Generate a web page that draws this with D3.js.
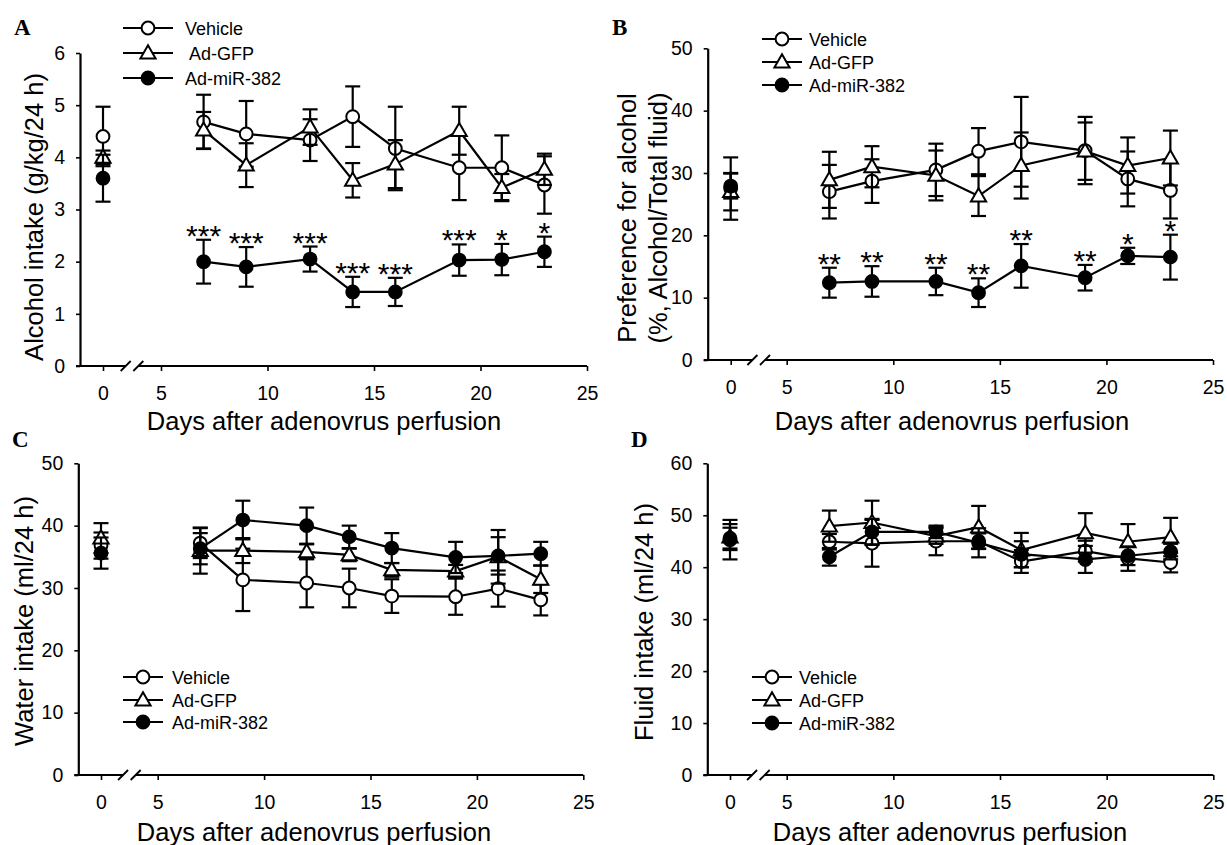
<!DOCTYPE html>
<html><head><meta charset="utf-8">
<script src="https://cdn.jsdelivr.net/npm/d3@7"></script>
<style>
body{margin:0;background:#fff}
svg{display:block;background:#fff}
text{font-family:"Liberation Sans",Arial,sans-serif;fill:#000}
</style>
</head><body>
<svg id="c" width="1227" height="845"></svg>
<script>
// ---------------- data ----------------
const days = [0, 7, 9, 12, 14, 16, 19, 21, 23];
const seriesNames = ["Vehicle", "Ad-GFP", "Ad-miR-382"];
const xTickValues = [0, 5, 10, 15, 20, 25];

// Panel A: Alcohol intake (g/kg/24 h)
const vehA    = [4.40, 4.68, 4.45, 4.33, 4.78, 4.17, 3.80, 3.80, 3.47];
const vehAerr = [0.57, 0.52, 0.63, 0.40, 0.58, 0.80, 0.62, 0.62, 0.55];
const gfpA    = [4.00, 4.52, 3.85, 4.58, 3.56, 3.87, 4.51, 3.42, 3.77];
const gfpAerr = [0.13, 0.35, 0.42, 0.34, 0.33, 0.46, 0.46, 0.26, 0.30];
const mirA    = [3.60, 2.00, 1.90, 2.05, 1.42, 1.42, 2.03, 2.04, 2.19];
const mirAerr = [0.45, 0.42, 0.38, 0.24, 0.29, 0.27, 0.30, 0.30, 0.29];
const starsA  = ["", "***", "***", "***", "***", "***", "***", "*", "*"];
const yTicksA = [0, 1, 2, 3, 4, 5, 6];

// Panel B: Preference for alcohol (%)
const vehB    = [27.5, 27.0, 28.7, 30.5, 33.5, 35.0, 33.6, 29.05, 27.2];
const vehBerr = [5.0, 4.3, 3.5, 4.2, 3.7, 7.2, 5.4, 4.4, 4.5];
const gfpB    = [27.0, 28.9, 31.0, 29.6, 26.3, 31.2, 33.5, 31.2, 32.4];
const gfpBerr = [3.0, 4.5, 3.3, 4.0, 3.2, 5.3, 4.6, 4.5, 4.4];
const mirB    = [27.9, 12.4, 12.6, 12.6, 10.8, 15.1, 13.2, 16.7, 16.5];
const mirBerr = [2.0, 2.4, 2.45, 2.2, 2.3, 3.5, 2.05, 1.3, 3.6];
const starsB  = ["", "**", "**", "**", "**", "**", "**", "*", "*"];
const yTicksB = [0, 10, 20, 30, 40, 50];

// Panel C: Water intake (ml/24 h)
const vehC    = [36.8, 37.2, 31.3, 30.8, 30.0, 28.7, 28.6, 29.9, 28.1];
const vehCerr = [2.1, 2.4, 5.0, 3.9, 3.1, 2.7, 2.9, 2.9, 2.5];
const gfpC    = [38.0, 36.0, 36.0, 35.8, 35.3, 32.9, 32.7, 35.0, 31.4];
const gfpCerr = [2.4, 3.7, 2.0, 1.2, 1.0, 1.1, 1.0, 4.3, 2.2];
const mirC    = [35.6, 36.3, 40.9, 40.0, 38.2, 36.4, 34.9, 35.15, 35.5];
const mirCerr = [2.5, 2.5, 3.1, 2.9, 1.8, 2.4, 2.5, 3.0, 1.9];
const yTicksC = [0, 10, 20, 30, 40, 50];

// Panel D: Fluid intake (ml/24 h)
const vehD    = [45.3, 44.9, 44.6, 45.0, 45.0, 41.1, 43.1, 41.7, 40.9];
const vehDerr = [3.8, 1.5, 4.5, 2.7, 1.5, 2.2, 2.0, 2.4, 1.9];
const gfpD    = [45.8, 47.9, 48.6, 46.0, 47.7, 43.3, 46.6, 44.9, 45.8];
const gfpDerr = [2.5, 3.0, 4.2, 1.5, 4.1, 3.3, 3.8, 3.4, 3.7];
const mirD    = [45.6, 42.0, 46.8, 46.8, 44.7, 42.5, 41.5, 42.2, 43.0];
const mirDerr = [2.0, 1.7, 2.5, 1.2, 2.8, 2.5, 2.6, 1.8, 1.5];
const yTicksD = [0, 10, 20, 30, 40, 50, 60];

// ---------------- layout ----------------
const panels = [
  { label: "A", lx: 14, ly: 35, ax: 80, x0: 103, x5: 161, x25: 587, yTop: 53, yBot: 366,
    yTicks: yTicksA, vals: [vehA, gfpA, mirA], errs: [vehAerr, gfpAerr, mirAerr], stars: starsA,
    leg: { x1: 123, x2: 173, tx: 185, ys: [28, 53, 78], labels: ["Vehicle", " Ad-GFP", "Ad-miR-382"] },
    ytitle: ["Alcohol intake (g/kg/24 h)"], ytx: [43], yty: 217, xtx: 324, xty: 430 },
  { label: "B", lx: 612, ly: 35, ax: 707.7, x0: 730.7, x5: 786.7, x25: 1213, yTop: 48.3, yBot: 360,
    yTicks: yTicksB, vals: [vehB, gfpB, mirB], errs: [vehBerr, gfpBerr, mirBerr], stars: starsB,
    leg: { x1: 762, x2: 802, tx: 809, ys: [39, 62, 85], labels: ["Vehicle", "Ad-GFP", "Ad-miR-382"] },
    ytitle: ["Preference for alcohol", "(%, Alcohol/Total fluid)"], ytx: [636, 667], yty: 218, xtx: 952, xty: 430 },
  { label: "C", lx: 12, ly: 447, ax: 78.3, x0: 101, x5: 157.7, x25: 583.3, yTop: 463.3, yBot: 775,
    yTicks: yTicksC, vals: [vehC, gfpC, mirC], errs: [vehCerr, gfpCerr, mirCerr], stars: null,
    leg: { x1: 123, x2: 163, tx: 172, ys: [677, 700, 722], labels: ["Vehicle", "Ad-GFP", "Ad-miR-382"] },
    ytitle: ["Water intake (ml/24 h)"], ytx: [33], yty: 621, xtx: 314, xty: 841 },
  { label: "D", lx: 631, ly: 447, ax: 707.3, x0: 730, x5: 786.7, x25: 1213.3, yTop: 463.3, yBot: 775,
    yTicks: yTicksD, vals: [vehD, gfpD, mirD], errs: [vehDerr, gfpDerr, mirDerr], stars: null,
    leg: { x1: 752, x2: 792, tx: 799, ys: [677, 700, 723], labels: ["Vehicle", "Ad-GFP", "Ad-miR-382"] },
    ytitle: ["Fluid intake (ml/24 h)"], ytx: [653], yty: 622, xtx: 950, xty: 841 }
];

const svg = d3.select("#c");
const LW = 2.2;
const triangle = d3.symbol().type(d3.symbolTriangle).size(100);

function drawMarker(g, kind, x, y) {
  if (kind === 1) {
    g.append("path").attr("d", triangle()).attr("transform", `translate(${x},${y + 1})`)
      .attr("fill", "#fff").attr("stroke", "#000").attr("stroke-width", 2);
  } else {
    g.append("circle").attr("cx", x).attr("cy", y).attr("r", 6.4)
      .attr("fill", kind === 0 ? "#fff" : "#000").attr("stroke", "#000").attr("stroke-width", 2);
  }
}

panels.forEach(p => {
  const g = svg.append("g");
  const yMax = p.yTicks[p.yTicks.length - 1];
  const x = d3.scaleLinear().domain([0, 5, 25]).range([p.x0, p.x5, p.x25]);
  const y = d3.scaleLinear().domain([0, yMax]).range([p.yBot, p.yTop]);

  // panel letter
  g.append("text").attr("x", p.lx).attr("y", p.ly).text(p.label)
    .style("font-family", "'Liberation Serif','Times New Roman',serif")
    .style("font-weight", "bold").style("font-size", "23px");

  // y axis
  const ya = g.append("g").attr("transform", `translate(${p.ax},0)`)
    .call(d3.axisLeft(y).tickValues(p.yTicks).tickSize(4).tickSizeOuter(0).tickPadding(11).tickFormat(d3.format("d")));
  ya.select(".domain").attr("stroke-width", LW);
  ya.selectAll(".tick line").attr("stroke-width", 1.6);
  ya.selectAll("text").style("font-size", "19.5px").style("font-family", "'Liberation Sans',Arial,sans-serif");

  // x axis (domain drawn manually with a break)
  const xa = g.append("g").attr("transform", `translate(0,${p.yBot})`)
    .call(d3.axisBottom(x).tickValues(xTickValues).tickSize(5).tickPadding(15).tickFormat(d3.format("d")));
  xa.select(".domain").remove();
  xa.selectAll(".tick line").attr("stroke-width", 1.6);
  xa.selectAll("text").style("font-size", "19.5px").style("font-family", "'Liberation Sans',Arial,sans-serif");
  const mid = (x(0) + x(5)) / 2;
  const c1 = mid - 6.3, c2 = mid + 6.3;
  g.append("line").attr("x1", p.ax - 4).attr("x2", c1).attr("y1", p.yBot).attr("y2", p.yBot)
    .attr("stroke", "#000").attr("stroke-width", LW);
  g.append("line").attr("x1", c2).attr("x2", x(25)).attr("y1", p.yBot).attr("y2", p.yBot)
    .attr("stroke", "#000").attr("stroke-width", LW);
  [c1, c2].forEach(c => {
    g.append("line").attr("x1", c - 5).attr("y1", p.yBot + 5).attr("x2", c + 5).attr("y2", p.yBot - 5)
      .attr("stroke", "#000").attr("stroke-width", 1.8);
  });

  // axis titles
  g.append("text").attr("x", p.xtx).attr("y", p.xty).attr("text-anchor", "middle")
    .style("font-size", "25.5px").text("Days after adenovrus perfusion");
  p.ytitle.forEach((t, i) => {
    g.append("text").attr("transform", `translate(${p.ytx[i]},${p.yty}) rotate(-90)`)
      .attr("text-anchor", "middle").style("font-size", "25.5px").text(t);
  });

  // series: error bars, lines, markers
  const line = d3.line().x(d => x(d.d)).y(d => y(d.v));
  p.vals.forEach((vals, k) => {
    const errs = p.errs[k];
    const pts = days.map((d, i) => ({ d, v: vals[i], e: errs[i] }));
    const sg = g.append("g");
    pts.forEach(pt => {
      const cx = x(pt.d);
      sg.append("line").attr("x1", cx).attr("x2", cx).attr("y1", y(pt.v - pt.e)).attr("y2", y(pt.v + pt.e))
        .attr("stroke", "#000").attr("stroke-width", LW);
      [pt.v - pt.e, pt.v + pt.e].forEach(v => {
        sg.append("line").attr("x1", cx - 7.5).attr("x2", cx + 7.5).attr("y1", y(v)).attr("y2", y(v))
          .attr("stroke", "#000").attr("stroke-width", LW);
      });
    });
    sg.append("path").datum(pts.slice(1)).attr("d", line).attr("fill", "none")
      .attr("stroke", "#000").attr("stroke-width", LW);
    pts.forEach(pt => drawMarker(sg, k, x(pt.d), y(pt.v)));
  });

  // significance stars on Ad-miR-382
  if (p.stars) {
    days.forEach((d, i) => {
      if (!p.stars[i]) return;
      const top = y(p.vals[2][i] + p.errs[2][i]);
      g.append("text").attr("x", x(d)).attr("y", top + 6).attr("text-anchor", "middle")
        .style("font-size", "30px").text(p.stars[i]);
    });
  }

  // legend
  p.leg.ys.forEach((ly, k) => {
    g.append("line").attr("x1", p.leg.x1).attr("x2", p.leg.x2).attr("y1", ly).attr("y2", ly)
      .attr("stroke", "#000").attr("stroke-width", LW);
    drawMarker(g, k, (p.leg.x1 + p.leg.x2) / 2, ly);
    g.append("text").attr("x", p.leg.tx).attr("y", ly + 6.5).style("font-size", "18px")
      .style("white-space", "pre").text(p.leg.labels[k]);
  });
});
</script>
</body></html>
